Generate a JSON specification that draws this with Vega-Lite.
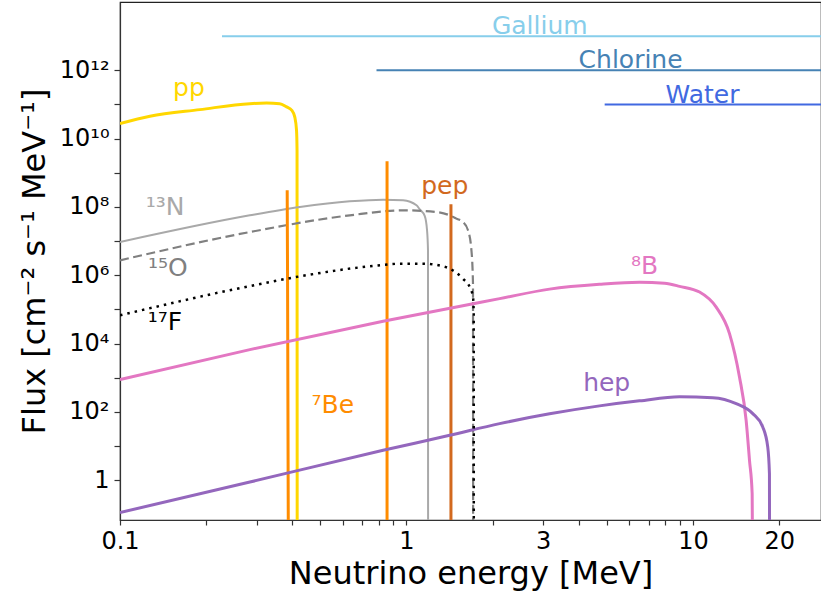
{
  "$schema": "https://vega.github.io/schema/vega-lite/v6.json",
  "width": 701,
  "height": 518,
  "autosize": {"type": "none"},
  "padding": {"left": 120, "top": 2, "right": 0, "bottom": 78},
  "background": "white",
  "config": {
    "font": "DejaVu Sans",
    "view": {"stroke": "#222", "strokeWidth": 1.2},
    "axis": {"grid": false, "domainColor": "#333", "tickColor": "#333", "domainWidth": 1.2, "tickWidth": 1.2, "labelColor": "black", "titleColor": "black", "labelFont": "DejaVu Sans", "titleFont": "DejaVu Sans", "titleFontWeight": "normal", "labelOverlap": false, "labelFlush": false, "labelBound": false}
  },
  "datasets": {
    "spec": [
      {"s": "pp", "i": 1, "E": 0.1, "F": 2.75e10},
      {"s": "pp", "i": 2, "E": 0.1272, "F": 4.51e10},
      {"s": "pp", "i": 3, "E": 0.19, "F": 7.08e10},
      {"s": "pp", "i": 4, "E": 0.284, "F": 1.06e11},
      {"s": "pp", "i": 5, "E": 0.325, "F": 1.10e11},
      {"s": "pp", "i": 6, "E": 0.361, "F": 1.06e11},
      {"s": "pp", "i": 7, "E": 0.3815, "F": 8.5e10},
      {"s": "pp", "i": 8, "E": 0.398, "F": 6.76e10},
      {"s": "pp", "i": 9, "E": 0.4076, "F": 4.27e10},
      {"s": "pp", "i": 10, "E": 0.4133, "F": 1.74e10},
      {"s": "pp", "i": 11, "E": 0.415, "F": 4.57e9},
      {"s": "pp", "i": 12, "E": 0.4155, "F": 0.01},
      {"s": "13N", "i": 1, "E": 0.1, "F": 9.44e6},
      {"s": "13N", "i": 2, "E": 0.284, "F": 5.7e7},
      {"s": "13N", "i": 3, "E": 0.4246, "F": 1.0e8},
      {"s": "13N", "i": 4, "E": 0.634, "F": 1.47e8},
      {"s": "13N", "i": 5, "E": 0.829, "F": 1.64e8},
      {"s": "13N", "i": 6, "E": 0.973, "F": 1.57e8},
      {"s": "13N", "i": 7, "E": 1.084, "F": 1.12e8},
      {"s": "13N", "i": 8, "E": 1.113, "F": 8.5e7},
      {"s": "13N", "i": 9, "E": 1.158, "F": 5.5e7},
      {"s": "13N", "i": 10, "E": 1.18, "F": 2.09e7},
      {"s": "13N", "i": 11, "E": 1.189, "F": 5.37e6},
      {"s": "13N", "i": 12, "E": 1.19, "F": 0.01},
      {"s": "15O", "i": 1, "E": 0.1, "F": 2.75e6},
      {"s": "15O", "i": 2, "E": 0.284, "F": 1.85e7},
      {"s": "15O", "i": 3, "E": 0.634, "F": 5.7e7},
      {"s": "15O", "i": 4, "E": 0.973, "F": 8.0e7},
      {"s": "15O", "i": 5, "E": 1.272, "F": 7.13e7},
      {"s": "15O", "i": 6, "E": 1.416, "F": 5.7e7},
      {"s": "15O", "i": 7, "E": 1.494, "F": 4.57e7},
      {"s": "15O", "i": 8, "E": 1.575, "F": 3.63e7},
      {"s": "15O", "i": 9, "E": 1.64, "F": 2.09e7},
      {"s": "15O", "i": 10, "E": 1.686, "F": 5.37e6},
      {"s": "15O", "i": 11, "E": 1.707, "F": 5.89e5},
      {"s": "15O", "i": 12, "E": 1.709, "F": 0.01},
      {"s": "17F", "i": 1, "E": 0.1, "F": 6.76e4},
      {"s": "17F", "i": 2, "E": 0.284, "F": 4.86e5},
      {"s": "17F", "i": 3, "E": 0.4246, "F": 9.33e5},
      {"s": "17F", "i": 4, "E": 0.745, "F": 1.84e6},
      {"s": "17F", "i": 5, "E": 0.973, "F": 2.2e6},
      {"s": "17F", "i": 6, "E": 1.143, "F": 2.2e6},
      {"s": "17F", "i": 7, "E": 1.342, "F": 1.84e6},
      {"s": "17F", "i": 8, "E": 1.416, "F": 1.57e6},
      {"s": "17F", "i": 9, "E": 1.575, "F": 7.94e5},
      {"s": "17F", "i": 10, "E": 1.663, "F": 4.55e5},
      {"s": "17F", "i": 11, "E": 1.707, "F": 2.32e5},
      {"s": "17F", "i": 12, "E": 1.717, "F": 7.76e4},
      {"s": "17F", "i": 13, "E": 1.718, "F": 0.01},
      {"s": "7Be_a", "i": 1, "E": 0.3834, "F": 3.1e8},
      {"s": "7Be_a", "i": 2, "E": 0.3845, "F": 1e6},
      {"s": "7Be_a", "i": 3, "E": 0.387, "F": 0.01},
      {"s": "7Be_b", "i": 1, "E": 0.8556, "F": 2.2e9},
      {"s": "7Be_b", "i": 2, "E": 0.8556, "F": 0.01},
      {"s": "pep", "i": 1, "E": 1.43, "F": 1.2e8},
      {"s": "pep", "i": 2, "E": 1.43, "F": 0.01},
      {"s": "8B", "i": 1, "E": 0.1, "F": 885},
      {"s": "8B", "i": 2, "E": 0.284, "F": 6700},
      {"s": "8B", "i": 3, "E": 0.829, "F": 4.51e4},
      {"s": "8B", "i": 4, "E": 2.115, "F": 2.08e5},
      {"s": "8B", "i": 5, "E": 3.16, "F": 3.95e5},
      {"s": "8B", "i": 6, "E": 4.72, "F": 5.46e5},
      {"s": "8B", "i": 7, "E": 6.51, "F": 6.25e5},
      {"s": "8B", "i": 8, "E": 7.96, "F": 5.83e5},
      {"s": "8B", "i": 9, "E": 8.98, "F": 4.76e5},
      {"s": "8B", "i": 10, "E": 10.55, "F": 3.24e5},
      {"s": "8B", "i": 11, "E": 12.06, "F": 1.17e5},
      {"s": "8B", "i": 12, "E": 13.42, "F": 1.97e4},
      {"s": "8B", "i": 13, "E": 14.54, "F": 1057},
      {"s": "8B", "i": 14, "E": 15.34, "F": 57},
      {"s": "8B", "i": 15, "E": 15.76, "F": 3.85},
      {"s": "8B", "i": 16, "E": 16.1, "F": 0.41},
      {"s": "8B", "i": 17, "E": 16.15, "F": 0.01},
      {"s": "hep", "i": 1, "E": 0.1, "F": 0.114},
      {"s": "hep", "i": 2, "E": 0.284, "F": 0.89},
      {"s": "hep", "i": 3, "E": 0.829, "F": 7.55},
      {"s": "hep", "i": 4, "E": 1.416, "F": 20.8},
      {"s": "hep", "i": 5, "E": 2.115, "F": 45.6},
      {"s": "hep", "i": 6, "E": 3.16, "F": 88.3},
      {"s": "hep", "i": 7, "E": 4.72, "F": 151},
      {"s": "hep", "i": 8, "E": 6.51, "F": 212},
      {"s": "hep", "i": 9, "E": 8.98, "F": 278},
      {"s": "hep", "i": 10, "E": 11.73, "F": 263},
      {"s": "hep", "i": 11, "E": 14.16, "F": 176},
      {"s": "hep", "i": 12, "E": 16.18, "F": 89.7},
      {"s": "hep", "i": 13, "E": 17.53, "F": 36.4},
      {"s": "hep", "i": 14, "E": 18.25, "F": 9.46},
      {"s": "hep", "i": 15, "E": 18.5, "F": 1.57},
      {"s": "hep", "i": 16, "E": 18.52, "F": 0.01},
      {"s": "Gallium", "i": 1, "E": 0.227, "F": 1e13},
      {"s": "Gallium", "i": 2, "E": 28, "F": 1e13},
      {"s": "Chlorine", "i": 1, "E": 0.786, "F": 1e12},
      {"s": "Chlorine", "i": 2, "E": 28, "F": 1e12},
      {"s": "Water", "i": 1, "E": 4.92, "F": 1e11},
      {"s": "Water", "i": 2, "E": 28, "F": 1e11}
    ],
    "labels": [
      {"s": "pp", "t": "pp", "E": 0.174, "F": 2.97e11},
      {"s": "13N", "t": "¹³N", "E": 0.1436, "F": 9.8e7},
      {"s": "15O", "t": "¹⁵O", "E": 0.147, "F": 1.6e6},
      {"s": "17F", "t": "¹⁷F", "E": 0.1436, "F": 4.2e4},
      {"s": "7Be", "t": "⁷Be", "E": 0.553, "F": 157},
      {"s": "pep", "t": "pep", "E": 1.36, "F": 4.03e8},
      {"s": "8B", "t": "⁸B", "E": 6.78, "F": 1.84e6},
      {"s": "hep", "t": "hep", "E": 5.0, "F": 692},
      {"s": "Gallium", "t": "Gallium", "E": 2.92, "F": 1.94e13},
      {"s": "Chlorine", "t": "Chlorine", "E": 6.06, "F": 1.96e12},
      {"s": "Water", "t": "Water", "E": 10.8, "F": 1.85e11}
    ]
  },
  "encoding": {
    "x": {"field": "E", "type": "quantitative",
      "scale": {"type": "log", "domain": [0.1, 28], "nice": false},
      "axis": {"title": "Neutrino energy [MeV]", "titleFontSize": 32, "titlePadding": 5, "labelFontSize": 24, "tickSize": 5, "labelPadding": 4,
        "values": [0.1, 0.2, 0.3, 0.4, 0.5, 0.6, 0.7, 0.8, 0.9, 1, 2, 3, 4, 5, 6, 7, 8, 9, 10, 20],
        "labelExpr": "datum.value == 0.1 ? '0.1' : datum.value == 1 ? '1' : datum.value == 3 ? '3' : datum.value == 10 ? '10' : datum.value == 20 ? '20' : ''"}},
    "y": {"field": "F", "type": "quantitative",
      "scale": {"type": "log", "domain": [0.069, 1e14], "nice": false},
      "axis": {"title": "Flux [cm⁻² s⁻¹ MeV⁻¹]", "titleFontSize": 32, "titlePadding": 8, "labelFontSize": 24, "tickSize": 6, "labelPadding": 5,
        "values": [1, 10, 100, 1000, 10000, 100000, 1000000, 10000000, 100000000, 1000000000, 10000000000, 100000000000, 1000000000000],
        "labelExpr": "datum.value == 1 ? '1' : datum.value == 100 ? '10²' : datum.value == 10000 ? '10⁴' : datum.value == 1000000 ? '10⁶' : datum.value == 100000000 ? '10⁸' : datum.value == 10000000000 ? '10¹⁰' : datum.value == 1000000000000 ? '10¹²' : ''"}}
  },
  "layer": [
    {"data": {"name": "spec"}, "transform": [{"filter": "indexof(['Gallium','Chlorine','Water'], datum.s) >= 0"}],
     "mark": {"type": "line", "strokeWidth": 2, "clip": true},
     "encoding": {"detail": {"field": "s"}, "order": {"field": "i"},
       "color": {"field": "s", "type": "nominal", "legend": null,
         "scale": {"domain": ["pp", "13N", "15O", "17F", "7Be", "pep", "8B", "hep", "Gallium", "Chlorine", "Water"],
           "range": ["#FFD700", "#A9A9A9", "#808080", "#000000", "#FF8C00", "#D2691E", "#e377c2", "#9467bd", "#87CEEB", "#4682B4", "#4169E1"]}}}},
    {"data": {"name": "spec"}, "transform": [{"filter": "datum.s == 'pp'"}],
     "mark": {"type": "line", "strokeWidth": 3, "color": "#FFD700", "clip": true, "interpolate": "monotone"},
     "encoding": {"order": {"field": "i"}}},
    {"data": {"name": "spec"}, "transform": [{"filter": "datum.s == '13N'"}],
     "mark": {"type": "line", "strokeWidth": 2, "color": "#A9A9A9", "clip": true, "interpolate": "monotone"},
     "encoding": {"order": {"field": "i"}}},
    {"data": {"name": "spec"}, "transform": [{"filter": "datum.s == '15O'"}],
     "mark": {"type": "line", "strokeWidth": 2.2, "color": "#808080", "strokeDash": [9, 4.5], "clip": true, "interpolate": "monotone"},
     "encoding": {"order": {"field": "i"}}},
    {"data": {"name": "spec"}, "transform": [{"filter": "datum.s == '7Be_a' || datum.s == '7Be_b'"}],
     "mark": {"type": "line", "strokeWidth": 3, "color": "#FF8C00", "clip": true},
     "encoding": {"detail": {"field": "s"}, "order": {"field": "i"}}},
    {"data": {"name": "spec"}, "transform": [{"filter": "datum.s == 'pep'"}],
     "mark": {"type": "line", "strokeWidth": 3, "color": "#D2691E", "clip": true},
     "encoding": {"order": {"field": "i"}}},
    {"data": {"name": "spec"}, "transform": [{"filter": "datum.s == '8B'"}],
     "mark": {"type": "line", "strokeWidth": 3, "color": "#e377c2", "clip": true, "interpolate": "monotone"},
     "encoding": {"order": {"field": "i"}}},
    {"data": {"name": "spec"}, "transform": [{"filter": "datum.s == 'hep'"}],
     "mark": {"type": "line", "strokeWidth": 3, "color": "#9467bd", "clip": true, "interpolate": "monotone"},
     "encoding": {"order": {"field": "i"}}},
    {"data": {"name": "spec"}, "transform": [{"filter": "datum.s == '17F'"}],
     "mark": {"type": "line", "strokeWidth": 2.5, "color": "black", "strokeDash": [2.5, 5], "clip": true, "interpolate": "monotone"},
     "encoding": {"order": {"field": "i"}}},
    {"data": {"name": "labels"},
     "mark": {"type": "text", "fontSize": 25, "align": "center", "baseline": "middle", "font": "DejaVu Sans"},
     "encoding": {"text": {"field": "t"},
       "color": {"field": "s", "type": "nominal", "legend": null,
         "scale": {"domain": ["pp", "13N", "15O", "17F", "7Be", "pep", "8B", "hep", "Gallium", "Chlorine", "Water"],
           "range": ["#FFD700", "#A9A9A9", "#808080", "#000000", "#FF8C00", "#D2691E", "#e377c2", "#9467bd", "#87CEEB", "#4682B4", "#4169E1"]}}}}
  ]
}
